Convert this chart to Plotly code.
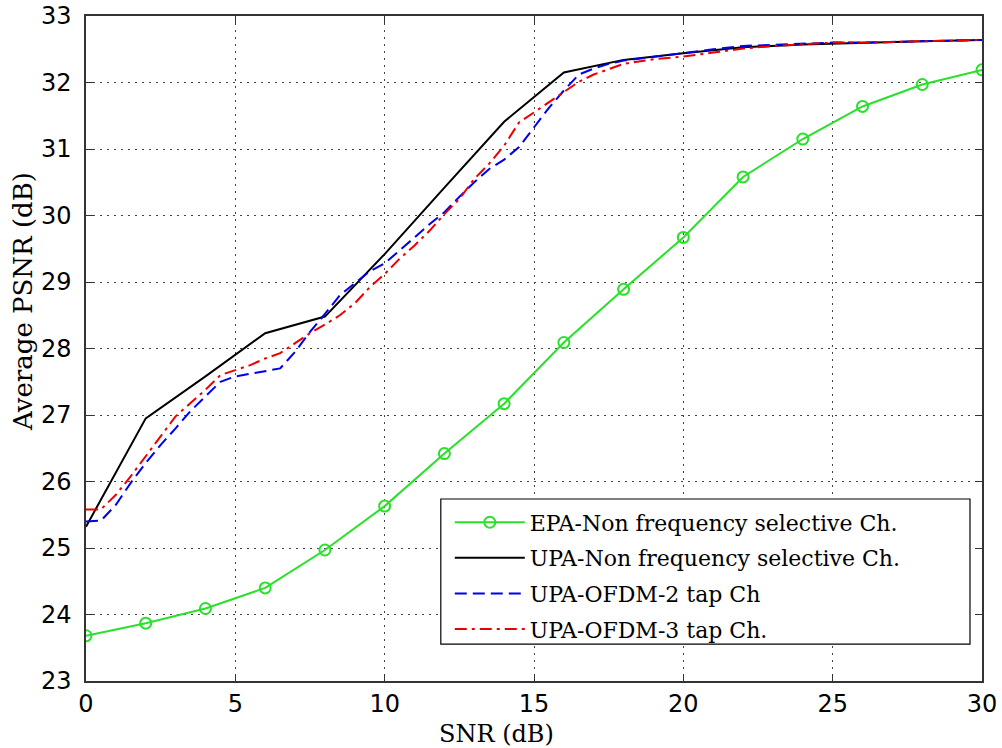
import plotly.graph_objects as go

# ---- data ----
snr_even = [0, 2, 4, 6, 8, 10, 12, 14, 16, 18, 20, 22, 24, 26, 28, 30]
epa_nfs = [23.68, 23.87, 24.09, 24.40, 24.97, 25.63, 26.42, 27.17, 28.09, 28.89,
           29.67, 30.58, 31.15, 31.64, 31.97, 32.19]
upa_nfs = [25.32, 26.95, 27.58, 28.23, 28.48, 29.42, 30.42, 31.41, 32.15, 32.34,
           32.44, 32.53, 32.57, 32.60, 32.62, 32.64]

snr_fine = [0, 0.5, 1, 1.5, 2, 2.5, 3, 3.5, 4, 4.5, 5, 5.5, 6, 6.5, 7, 7.5, 8, 8.5,
            9, 9.5, 10, 10.5, 11, 11.5, 12, 12.5, 13, 13.5, 14, 14.5, 15, 15.5, 16,
            16.5, 17, 17.5, 18, 19, 20, 21, 22, 23, 24, 25, 26, 27, 28, 29, 30]
upa_ofdm2 = [25.40, 25.41, 25.65, 25.98, 26.28, 26.55, 26.80, 27.06, 27.28, 27.50,
             27.58, 27.62, 27.65, 27.70, 27.95, 28.25, 28.52, 28.80, 28.98, 29.16,
             29.28, 29.47, 29.67, 29.87, 30.05, 30.28, 30.50, 30.70, 30.84, 31.03,
             31.32, 31.62, 31.88, 32.12, 32.21, 32.28, 32.33, 32.39, 32.44, 32.50,
             32.55, 32.57, 32.58, 32.60, 32.60, 32.61, 32.62, 32.63, 32.64]
upa_ofdm3 = [25.58, 25.58, 25.80, 26.08, 26.38, 26.68, 26.98, 27.18, 27.38, 27.60,
             27.68, 27.75, 27.85, 27.93, 28.08, 28.23, 28.36, 28.50, 28.68, 28.92,
             29.12, 29.35, 29.55, 29.77, 30.02, 30.25, 30.55, 30.78, 31.05, 31.40,
             31.55, 31.70, 31.85, 32.01, 32.12, 32.20, 32.28, 32.35, 32.39, 32.45,
             32.51, 32.55, 32.57, 32.60, 32.60, 32.61, 32.62, 32.63, 32.64]

names = ["EPA-Non frequency selective Ch.", "UPA-Non frequency selective Ch.",
         "UPA-OFDM-2 tap Ch", "UPA-OFDM-3 tap Ch."]
x_title = "SNR (dB)"
y_title = "Average PSNR (dB)"
x_ticks = [0, 5, 10, 15, 20, 25, 30]
y_ticks = [23, 24, 25, 26, 27, 28, 29, 30, 31, 32, 33]

serif = "DejaVu Serif, serif"
sans = "DejaVu Sans, sans-serif"

fig = go.Figure()
fig.add_trace(go.Scatter(x=snr_even, y=epa_nfs, name=names[0], mode="lines+markers",
                         line=dict(color="rgb(40,225,40)", width=2),
                         marker=dict(symbol="circle-open", size=11, color="rgb(40,225,40)",
                                     line=dict(width=2)),
                         legendgroup="a"))
fig.add_trace(go.Scatter(x=snr_even, y=upa_nfs, name=names[1], mode="lines",
                         line=dict(color="black", width=2), legendgroup="b"))
fig.add_trace(go.Scatter(x=snr_fine, y=upa_ofdm2, name=names[2], mode="lines",
                         line=dict(color="rgb(0,0,235)", width=2, dash="12px,6px"),
                         legendgroup="c"))
fig.add_trace(go.Scatter(x=snr_fine, y=upa_ofdm3, name=names[3], mode="lines",
                         line=dict(color="rgb(235,0,0)", width=2, dash="12px,5px,3px,5px"),
                         legendgroup="d"))

axis_common = dict(showline=True, linecolor="#333", linewidth=1.5, mirror="ticks",
                   ticks="inside", ticklen=7, tickcolor="#333", automargin=False,
                   showgrid=True, gridcolor="#444", griddash="2px,5px", gridwidth=1,
                   zeroline=False, tickfont=dict(family=sans, size=24, color="black"))

fig.update_xaxes(range=[0, 30], tickvals=x_ticks, **axis_common)
fig.update_yaxes(range=[23, 33], tickvals=y_ticks, ticklabelstandoff=8, **axis_common)

# axis titles placed where the original has them
fig.add_annotation(text=x_title, xref="paper", yref="paper", x=0.4576, y=-0.079,
                   xanchor="center", yanchor="middle", showarrow=False,
                   font=dict(family=serif, size=24, color="black"))
fig.add_annotation(text=y_title, xref="paper", yref="paper", x=-0.0703, y=0.57,
                   xanchor="center", yanchor="middle", showarrow=False, textangle=-90,
                   font=dict(family=serif, size=26, color="black"))

# opaque legend box (white, bordered) like the original
fig.add_shape(type="rect", xref="paper", yref="paper",
              x0=0.396, x1=0.9866, y0=0.0556, y1=0.2737,
              fillcolor="white", line=dict(color="black", width=1.2), layer="above")

fig.update_layout(
    width=1002, height=748,
    margin=dict(l=86, r=20, t=16, b=67),
    paper_bgcolor="white", plot_bgcolor="white",
    showlegend=True,
    legend=dict(x=0.406, y=0.27, xanchor="left", yanchor="top",
                bgcolor="rgba(0,0,0,0)", borderwidth=0,
                font=dict(family=serif, size=22, color="black"),
                itemwidth=70, tracegroupgap=4),
)

fig.write_html("out.html")
